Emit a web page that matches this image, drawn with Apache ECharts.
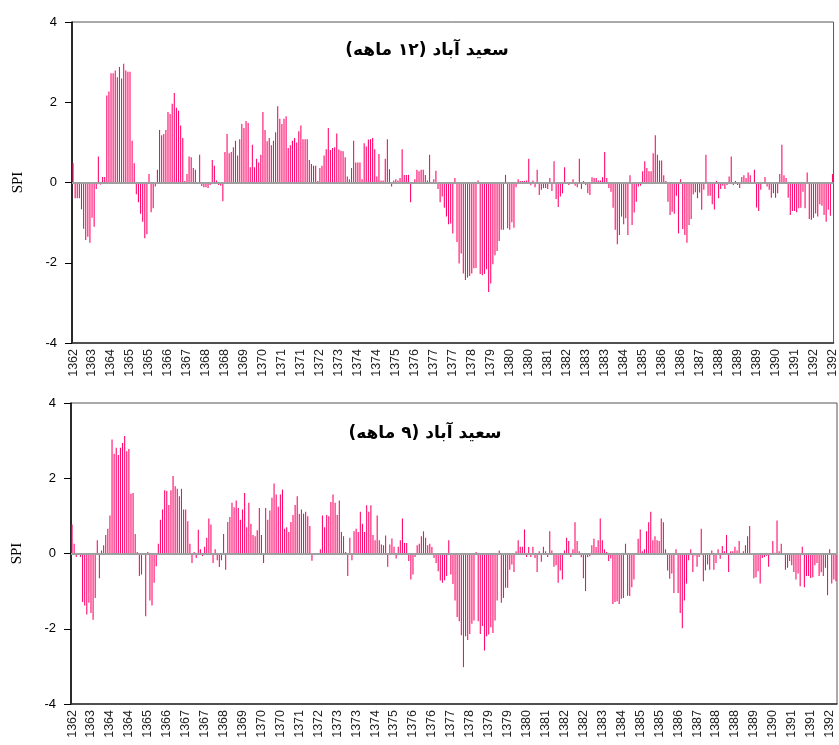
<!DOCTYPE html>
<html><head><meta charset="utf-8">
<script src="https://cdn.jsdelivr.net/npm/echarts@6/dist/echarts.min.js"></script>
<style>html,body{margin:0;padding:0;background:#fff}#c{width:839px;height:745px}</style>
</head><body><div id="c"></div>
<script>
const title12 = '\u200Fسعید آباد (۱۲ ماهه)\u200F';
const title9 = '\u200Fسعید آباد (۹ ماهه)\u200F';

const ticks12 = ['1362','1363','1364','1365','1365','1366','1367','1368','1368','1369','1370','1371','1371','1372','1373','1374','1374','1375','1376','1377','1377','1378','1379','1380','1380','1381','1382','1383','1383','1384','1385','1386','1386','1387','1388','1389','1389','1390','1391','1392','1392'];
const ticks9 = ['1362','1363','1364','1364','1365','1366','1367','1367','1368','1369','1370','1370','1371','1372','1373','1373','1374','1375','1376','1376','1377','1378','1379','1379','1380','1381','1382','1382','1383','1384','1385','1385','1386','1387','1388','1388','1389','1390','1391','1391','1392'];

const spi12 = [
0.48,-0.39,-0.39,-0.39,-0.67,-1.15,-1.43,-1.35,-1.5,-0.88,
-1.1,-0.16,0.65,-0.05,0.14,0.14,2.17,2.27,2.72,2.72,
2.79,2.62,2.88,2.59,2.96,2.79,2.76,2.76,1.04,0.48,
-0.29,-0.49,-0.78,-0.98,-1.39,-1.29,0.21,-0.74,-0.64,-0.1,
0.32,1.31,1.18,1.21,1.31,1.76,1.71,1.96,2.23,1.86,
1.79,1.42,1.11,0.04,0.21,0.65,0.63,0.36,0.32,0,
0.69,-0.09,-0.12,-0.12,-0.14,-0.06,0.56,0.42,0.05,-0.06,
-0.08,-0.47,0.76,1.21,0.73,0.76,0.88,1.04,0.67,1.08,
1.46,1.36,1.53,1.48,0.38,0.94,0.38,0.59,0.5,0.69,
1.76,1.31,1.03,1.11,0.93,1.04,1.25,1.9,1.59,1.46,
1.59,1.65,0.86,0.93,1.04,1.11,1.0,1.28,1.42,1.08,
1.08,1.08,0.56,0.46,0.42,0.42,0.04,0.36,0.42,0.67,
0.83,1.36,0.81,0.86,0.88,1.22,0.82,0.79,0.78,0.63,
0.15,0.08,0.36,1.04,0.5,0.5,0.5,0.08,0.98,0.9,
1.07,1.08,1.11,0.83,0.15,0.71,0.05,0.05,0.59,1.08,
0.33,-0.1,0.05,0.08,0.05,0.11,0.83,0.19,0.19,0.19,
-0.49,-0.02,0.08,0.32,0.28,0.32,0.32,0.19,0.05,0.69,
-0.02,0.08,0.29,-0.16,-0.49,-0.35,-0.63,-0.85,-1.04,-1.02,
-1.27,0.11,-1.48,
-2.02,-1.77,-2.27,-2.43,-2.37,-2.33,-2.27,-2.14,-2.13,0.05,
-2.28,-2.31,-2.28,-2.16,-2.73,-2.52,-2.04,-1.81,-1.71,-1.46,
-1.18,-1.18,0.19,-1.14,-1.18,-0.99,-1.13,-0.12,0.08,0.04,
0.04,0.04,0.05,0.59,-0.07,0.05,-0.12,0.32,-0.31,-0.18,
-0.14,-0.14,-0.16,0.11,-0.21,0.53,-0.41,-0.61,-0.35,-0.27,
0.38,0.0,-0.06,0.0,0.08,-0.08,-0.12,0.59,-0.16,0.04,
-0.06,-0.27,-0.31,0.13,0.11,0.11,0.05,0.05,0.13,0.76,
0.11,-0.14,-0.23,-0.63,-1.18,-1.54,-1.31,-0.85,-1.04,-0.89,
-1.31,0.18,-1.06,-0.75,-0.48,-0.1,-0.08,0.28,0.53,0.36,
0.28,
0.28,0.73,1.18,0.69,0.55,0.55,0.18,0.04,-0.48,-0.81,
-0.73,-0.78,-0.33,-1.27,0.08,-1.16,-1.31,-1.5,-1.06,-0.91,
-0.29,-0.24,-0.39,-0.25,-0.68,-0.18,0.69,-0.33,-0.33,-0.54,
-0.67,0.04,-0.39,-0.16,-0.08,-0.16,-0.06,0.15,0.65,-0.06,
0.04,-0.06,-0.14,0.14,0.18,0.11,0.25,0.18,0.0,0.32,
-0.62,-0.71,-0.18,0.0,0.14,-0.1,-0.18,-0.38,-0.27,-0.38,
-0.27,0.21,0.94,0.18,0.11,-0.38,-0.81,-0.71,-0.71,-0.74,
-0.64,-0.63,-0.23,-0.64,0.25,-0.91,-0.93,-0.88,-0.77,-0.85,
-0.54,-0.58,-0.81,-0.98,-0.68,-0.83,0.21
];

const spi9 = [
0.77,0.26,-0.09,-0.04,-0.09,-1.29,-1.38,-1.62,-1.31,-1.58,
-1.76,-1.18,0.35,-0.66,0.08,0.22,0.49,0.66,1.01,3.03,
2.65,2.81,2.62,2.81,2.94,3.12,2.72,2.78,1.59,1.61,
0.52,0.04,-0.6,-0.56,0,-1.67,0.04,-1.25,-1.38,-0.78,
-0.34,0.26,0.9,1.17,1.68,1.66,1.29,1.68,2.06,1.79,
1.72,1.52,1.72,1.17,1.17,0.86,0.26,-0.25,0.04,-0.12,
0.63,0.11,-0.07,0.18,0.42,0.93,0.77,-0.25,0.11,-0.18,
-0.36,-0.18,0.52,-0.43,0.84,0.97,1.35,1.23,1.41,1.21,
0.9,1.17,1.61,0.7,1.35,0.79,0.49,0.46,0.62,1.21,
0.49,-0.25,1.21,0.9,1.14,1.48,1.86,1.57,1.24,1.57,
1.7,0.66,0.7,0.57,0.84,1.02,1.29,1.52,1.05,1.17,
1.06,1.11,0.99,0.73,-0.19,0,-0.03,-0.04,0.11,1.01,
0.7,1.02,0.99,1.37,1.57,1.35,1.02,1.41,0.57,0.46,
0.04,-0.6,0.42,-0.18,0.59,0.66,0.57,1.11,0.79,0.57,
1.28,1.11,1.28,0.49,0.35,1.01,0.35,0.24,0.22,0.48,
-0.35,0.24,0.4,0.18,-0.13,0.18,0.35,0.93,0.28,0.28,
-0.2,-0.69,-0.56,-0.09,0.22,0.26,0.46,0.59,0.42,0.22,
0.26,0.17,-0.12,-0.25,-0.47,-0.72,-0.78,-0.71,-0.6,0.35,
-0.56,-0.81,-1.25,
-1.69,-1.8,-2.17,-3.02,-2.2,-2.3,-2.14,-1.87,-1.78,0.04,
-1.8,-2.14,-1.93,-2.58,-2.2,-2.15,-1.96,-2.11,-1.78,-1.25,
0.08,-1.31,-1.18,-0.91,-0.91,-0.43,-0.29,-0.49,0.06,0.35,
0.18,0.18,0.64,-0.09,0.17,-0.09,0.18,-0.12,-0.49,0.06,
-0.22,0.18,0.06,-0.09,0.59,0.08,-0.35,-0.31,-0.78,-0.45,
-0.69,0.08,0.42,0.33,-0.09,0.11,0.83,0.33,0.06,-0.1,
-0.66,-1.0,-0.1,-0.07,0.22,0.39,0.17,0.35,0.93,0.35,
0.11,0.04,-0.2,-0.13,-1.34,-1.29,-1.27,-1.34,-1.2,-1.18,
0.26,-1.12,-1.13,-0.9,-0.69,-0.01,0.39,0.64,0.06,0.11,
0.59,0.83,
1.11,0.35,0.46,0.35,0.33,0.93,0.83,0.11,-0.45,-0.67,
-0.53,-1.05,0.11,-1.05,-1.58,-1.99,-1.25,-0.8,-0.18,0.11,
-0.49,-0.05,-0.35,-0.09,0.66,-0.74,-0.45,-0.29,-0.43,0.08,
-0.43,-0.25,0.11,-0.14,0.2,0.06,0.49,-0.49,0.06,0.06,
0.18,0.08,0.33,-0.04,0.06,0.22,0.46,0.73,0.0,-0.66,
-0.63,-0.47,-0.8,-0.12,-0.09,-0.06,-0.35,-0.04,0.33,0.02,
0.88,0.06,0.26,-0.04,-0.43,-0.38,-0.2,-0.31,-0.49,-0.69,
-0.53,-0.87,0.18,-0.9,-0.6,-0.6,-0.65,-0.63,-0.31,-0.25,
-0.6,-0.5,-0.6,-0.38,-1.11,0.11,-0.8,-0.69,-0.74
];

const TICK_EVERY = 9;
const BAR_COLOR = '#ff0a6c';

function makeX(gridIndex, values, ticks) {
  return {
    type: 'category', gridIndex: gridIndex,
    data: values.map(function (_, i) { return String(i); }),
    boundaryGap: true,
    axisLine: { onZero: false, lineStyle: { color: '#333', width: 1.5 } },
    axisTick: { show: false },
    axisLabel: {
      interval: TICK_EVERY - 1, rotate: 90, margin: 6,
      fontFamily: 'Liberation Sans', fontSize: 12.5, color: '#222',
      formatter: function (v, idx) { const t = ticks[idx / TICK_EVERY]; return t === undefined ? '' : t; }
    },
    splitLine: { show: false }
  };
}
function makeY(gridIndex) {
  return {
    type: 'value', gridIndex: gridIndex, min: -4, max: 4, interval: 2,
    axisLine: { show: true, lineStyle: { color: '#000', width: 1.5 } },
    axisTick: { show: true, inside: false, length: 7, lineStyle: { color: '#000', width: 1 } },
    axisLabel: { margin: 15, fontFamily: 'Liberation Sans', fontSize: 13, color: '#000' },
    splitLine: { show: false },
    name: 'SPI', nameLocation: 'middle', nameGap: 46, nameRotate: 90,
    nameTextStyle: { fontFamily: 'Liberation Serif', fontSize: 15, color: '#000' }
  };
}
function makeSeries(idx, values) {
  return {
    type: 'bar', xAxisIndex: idx, yAxisIndex: idx, data: values,
    barWidth: '52%', barGap: '0%', itemStyle: { color: BAR_COLOR },
    animation: false,
    markLine: {
      silent: true, symbol: ['none', 'none'], label: { show: false },
      lineStyle: { color: '#a0a0a0', width: 2, type: 'solid' },
      data: [{ yAxis: 0 }]
    }
  };
}

const chart = echarts.init(document.getElementById('c'));
chart.setOption({
  animation: false,
  backgroundColor: '#fff',
  grid: [
    { left: 72, top: 22, width: 762, height: 321, show: true, borderColor: '#555', borderWidth: 1, backgroundColor: 'transparent' },
    { left: 71, top: 403, width: 766, height: 301, show: true, borderColor: '#555', borderWidth: 1, backgroundColor: 'transparent' }
  ],
  xAxis: [makeX(0, spi12, ticks12), makeX(1, spi9, ticks9)],
  yAxis: [makeY(0), makeY(1)],
  series: [makeSeries(0, spi12), makeSeries(1, spi9)],
  graphic: [
    { type: 'text', x: 427, y: 51, style: { text: title12, font: 'bold 17px "DejaVu Sans"', fill: '#000', textAlign: 'center', textVerticalAlign: 'middle' } },
    { type: 'text', x: 425, y: 434, style: { text: title9, font: 'bold 17px "DejaVu Sans"', fill: '#000', textAlign: 'center', textVerticalAlign: 'middle' } }
  ]
});
</script>
</body></html>
